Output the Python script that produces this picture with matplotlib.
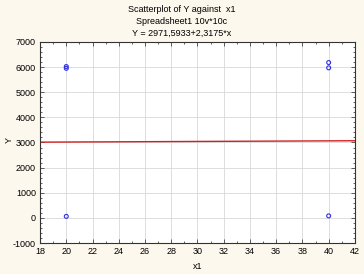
import matplotlib
matplotlib.use("Agg")
import matplotlib.pyplot as plt
import numpy as np
from matplotlib.ticker import MultipleLocator, AutoMinorLocator

plt.rcParams['font.family'] = ['Liberation Sans', 'DejaVu Sans']
plt.rcParams['axes.unicode_minus'] = False

x_vals = [20, 20, 20, 40, 40, 40]
y_vals = [6020, 5950, 60, 6180, 5970, 80]
intercept = 2971.5933
slope = 2.3175
titles = ["Scatterplot of Y against  x1", "Spreadsheet1 10v*10c", "Y = 2971,5933+2,3175*x"]

fig = plt.figure(figsize=(3.64, 2.74), dpi=100, facecolor='#fdf8ee')
ax = fig.add_axes([0.110, 0.113, 0.865, 0.734])
ax.set_facecolor('white')

xl = np.array([18, 42])
ax.plot(xl, intercept + slope * xl, color='#d02020', lw=1.0, zorder=2)
ax.scatter(x_vals, y_vals, s=8, facecolors='none', edgecolors='#3030e0', linewidths=0.8, zorder=3)

ax.set_xlim(18, 42)
ax.set_ylim(-1000, 7000)
ax.xaxis.set_major_locator(MultipleLocator(2))
ax.yaxis.set_major_locator(MultipleLocator(1000))
ax.xaxis.set_minor_locator(AutoMinorLocator(2))
ax.yaxis.set_minor_locator(AutoMinorLocator(5))
ax.grid(True, which='major', color='#d8d8d8', lw=0.6)
ax.tick_params(which='both', direction='in', top=True, right=True, labelsize=6.5, pad=3, width=0.6, color='#444444')
ax.tick_params(which='major', length=3)
ax.tick_params(which='minor', length=1.5)
for s in ax.spines.values():
    s.set_linewidth(0.8)
    s.set_color('#333333')

ax.set_xlabel('x1', fontsize=6.5, labelpad=4)
fig.text(9 / 364, 1 - 140 / 274, 'Y', rotation=90, ha='center', va='center', fontsize=6.5)

for i, t in enumerate(titles):
    fig.text(0.5, 1 - (10 + 11.5 * i) / 274, t, ha='center', va='center', fontsize=6.5)

fig.savefig('out.png', dpi=100, facecolor=fig.get_facecolor())
